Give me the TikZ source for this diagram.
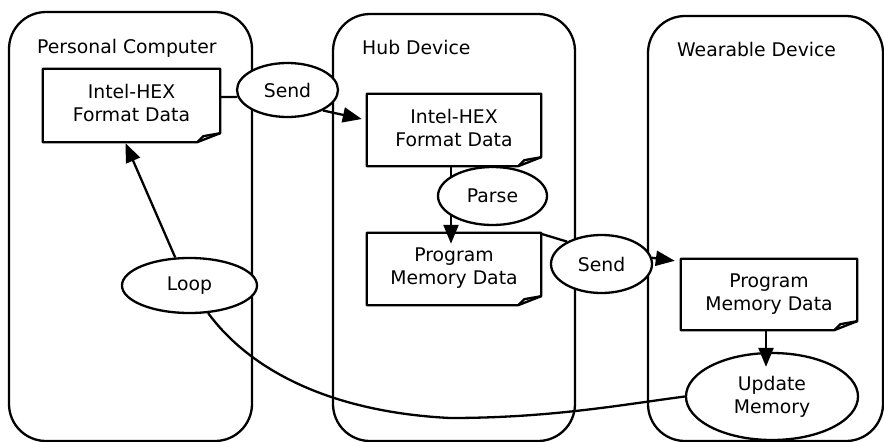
\documentclass[tikz,border=0pt]{standalone}
\usepackage{fontspec}
\setmainfont{DejaVu Sans}
\usetikzlibrary{arrows.meta,shapes.geometric,backgrounds}
\begin{document}
\begin{tikzpicture}[x=1pt,y=-1pt,
  every node/.style={font=\fontsize{18.8}{23}\selectfont},
  ln/.style={line width=2.3pt, line join=round},
  arr/.style={ln, -{Triangle[length=19pt,width=15pt]}},
  container/.style={draw, ln, rounded corners=37pt, inner sep=0pt},
  docnode/.style={inner sep=0pt, align=center, minimum width=176pt, minimum height=72pt, text depth=5pt},
  oval/.style={ellipse, draw, ln, fill=white, align=center, inner sep=0pt},
  title/.style={anchor=base west, inner sep=0pt}]
\useasboundingbox (0,0) rectangle (884,442);

% containers
\begin{scope}[on background layer]
\node[container, minimum width=243pt, minimum height=429pt] (pc) at (130.5,226.5) {};
\node[container, minimum width=242pt, minimum height=427pt] (hub) at (454,227.5) {};
\node[container, minimum width=235pt, minimum height=425pt] (wear) at (765.5,228.5) {};
\end{scope}

\node[title] (pct) at (37,53) {Personal Computer};
\node[title] (hubt) at (362,54) {Hub Device};
\node[title] (weart) at (677,56) {Wearable Device};

% documents
\node[docnode, minimum width=177pt, minimum height=73pt] (pcdoc) at (131.5,105.5) {Intel-HEX\\Format Data};
\node[docnode, minimum width=174pt] (hubdoc) at (454,130) {Intel-HEX\\Format Data};
\node[docnode, minimum width=174pt] (hubpmd) at (454,269) {Program\\Memory Data};
\node[docnode, minimum height=71pt] (wpmd) at (769,294.5) {Program\\Memory Data};

\foreach \n in {pcdoc,hubdoc,hubpmd,wpmd}{
  \draw[ln] (\n.north west) -- (\n.north east) -- ([yshift=9pt]\n.south east)
     -- ([xshift=-23pt]\n.south east) -- (\n.south west) -- cycle;
  \draw[ln] ([xshift=-23pt]\n.south east) -- ([xshift=-17pt,yshift=6pt]\n.south east)
     -- ([yshift=9pt]\n.south east);
}

% ovals
\node[oval, minimum width=101pt, minimum height=54pt] (send1) at (287.5,90) {Send};
\node[oval, minimum width=109pt, minimum height=58pt] (parse) at (492.5,196) {Parse};
\node[oval, minimum width=101pt, minimum height=58pt] (send2) at (601.5,264) {Send};
\node[oval, minimum width=135pt, minimum height=55pt] (loop) at (189.5,285.5) {Loop};
\node[oval, minimum width=172pt, minimum height=87pt] (upd) at (772,396.5) {Update\\Memory};

% connectors
\begin{scope}[on background layer]
\draw[ln] ([yshift=8.5pt]pcdoc.east) -- (send1.188);
\draw[arr] (send1.-30) -- ([xshift=-5pt,yshift=11pt]hubdoc.west);
\draw[arr] ([xshift=-3pt]hubdoc.south) -- ([xshift=-3pt,yshift=-11pt]hubpmd.north);
\draw[ln] ([yshift=-1pt]hubpmd.north east) -- (send2.147);
\draw[arr] (send2.7) -- ([xshift=-6pt,yshift=-2pt]wpmd.north west);
\draw[arr] (loop.117) -- ([xshift=-6pt,yshift=-1pt]pcdoc.south);
\draw[ln] (loop.-56) .. controls (250,370) and (330,412) .. (450,418)
   .. controls (550,418) and (620,405) .. (upd.west);
\end{scope}
\coordinate (updtop) at ([yshift=-15pt]upd.north);
\draw[arr] ([xshift=-3pt]wpmd.south) -- ([xshift=-3pt]wpmd.south |- updtop);
\end{tikzpicture}
\end{document}
